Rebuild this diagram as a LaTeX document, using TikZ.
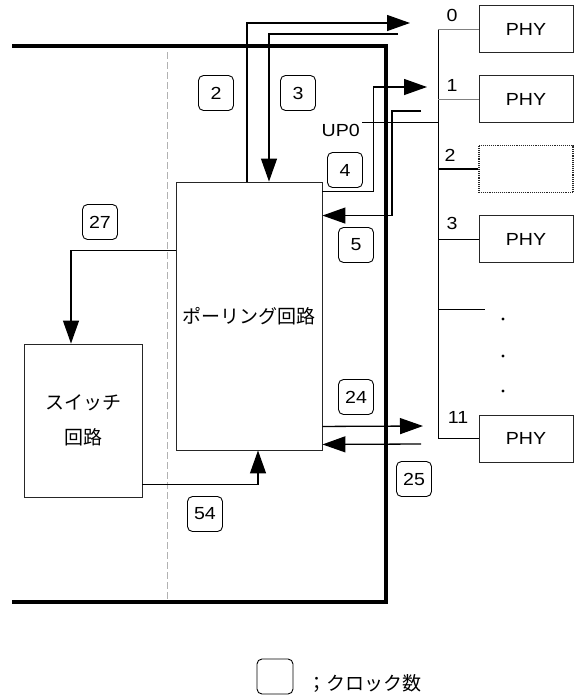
\documentclass[tikz,border=0pt]{standalone}
\usepackage{fontspec}
\setmainfont{Liberation Sans}[FakeStretch=1.12]
\newfontfamily\jp{Noto Sans CJK JP}
\usetikzlibrary{arrows.meta,calc}
\begin{document}
\begin{tikzpicture}[x=1pt,y=-1pt,
  box/.style={draw=black!85,line width=0.9pt,fill=white,inner sep=0pt},
  phy/.style={box,minimum width=94pt,minimum height=47pt,font=\fontsize{17.5}{20}\selectfont},
  clk/.style={draw=black,line width=0.9pt,rounded corners=5pt,minimum width=35pt,minimum height=35pt,inner sep=0pt,font=\fontsize{17.5}{20}\selectfont},
  num/.style={inner sep=0pt,font=\fontsize{17.5}{20}\selectfont},
  arr/.style={line width=1.3pt,-{Triangle[length=23pt,width=16pt]}},
  thin/.style={line width=0.9pt},
  frame/.style={line width=4pt}]
\useasboundingbox (0,0) rectangle (577,696);
% dashed divider and frame
\draw[gray!60,line width=0.6pt,dash pattern=on 7pt off 3pt] (167,52) -- (167,602);
\draw[frame] (12,46) -- (386,46) -- (386,602) -- (12,602);
% main boxes
\node[box,minimum width=146pt,minimum height=268pt,font=\jp\fontsize{19}{22}\selectfont] (poll) at (249,316) {ポーリング回路};
\node[box,minimum width=118pt,minimum height=153pt,align=center,font=\jp\fontsize{19}{35}\selectfont] (sw) at (83,420.5) {スイッチ\\回路};
% PHY column
\node[phy] (p0) at (526,29) {PHY};
\node[phy] (p1) at (526,99) {PHY};
\node[box,minimum width=94pt,minimum height=47pt,densely dotted,line width=1.2pt] (s2) at (526,169) {};
\node[phy] (p3) at (526,239) {PHY};
\node[phy] (p11) at (526,438.5) {PHY};
\coordinate (bt) at (438,29);
\coordinate (bb) at (438,438.5);
\coordinate (dl) at (485,309);
\draw[thin] (bt) -- (bb);
\draw[thin,gray] (bt) -- (p0.west);
\draw[thin,gray] (p1.west -| bt) -- (p1.west);
\draw[line width=1.3pt] (s2.west -| bt) -- (s2.west);
\draw[thin] (p3.west -| bt) -- (p3.west);
\draw[thin] (dl -| bt) -- (dl);
\draw[thin] (bb) -- (p11.west);
\node[num] (n0) at (452,15) {0};
\node[num] (n1) at (452,85) {1};
\node[num] (n2) at (450,155) {2};
\node[num] (n3) at (452,223) {3};
\node[num] (n11) at (458,417) {11};
\fill (503,319) circle (1.6pt);
\fill (503,356) circle (1.6pt);
\fill (503,391) circle (1.6pt);
% UP0
\coordinate (up) at (362,122);
\draw[thin] (up) -- (up -| bt);
\node[num,anchor=east] (up0) at (360,130) {UP0};
% arrows
\coordinate (a2e) at (410,23);
\draw[arr] ([xshift=-2pt]poll.north) |- (a2e);
\coordinate (a3s) at (398,34);
\draw[arr] (a3s) -| ([xshift=20pt]poll.north);
\coordinate (a4e) at (427,87);
\draw[arr] ([yshift=-10pt]poll.north east) -- ++(51,0) |- (a4e);
\coordinate (a5s) at (421,111);
\draw[arr] (a5s) -- ++(-29,0) |- ([yshift=-34pt]poll.north east);
\coordinate (a24e) at (423,426);
\draw[arr] ([yshift=24pt]poll.south east) -- (a24e);
\coordinate (a25s) at (421,444);
\draw[arr] (a25s) -- ([yshift=6pt]poll.south east);
\draw[arr] ([yshift=-69pt]poll.north west) -| ([xshift=-12pt]sw.north);
\draw[arr] ([yshift=13pt]sw.south east) -| ([xshift=9pt]poll.south);
% clock labels
\node[clk] (c2) at (216,93) {2};
\node[clk] (c3) at (298,93) {3};
\node[clk] (c4) at (345,170) {4};
\node[clk] (c5) at (356,245) {5};
\node[clk] (c24) at (356,397) {24};
\node[clk] (c25) at (414,479) {25};
\node[clk] (c27) at (100,222) {27};
\node[clk] (c54) at (205,514) {54};
% legend
\node[clk,minimum width=36pt] (leg) at (275,676.5) {};
\node[inner sep=0pt,anchor=west,font=\jp\fontsize{19}{22}\selectfont] (legt) at (307,683) {；クロック数};
\end{tikzpicture}
\end{document}
